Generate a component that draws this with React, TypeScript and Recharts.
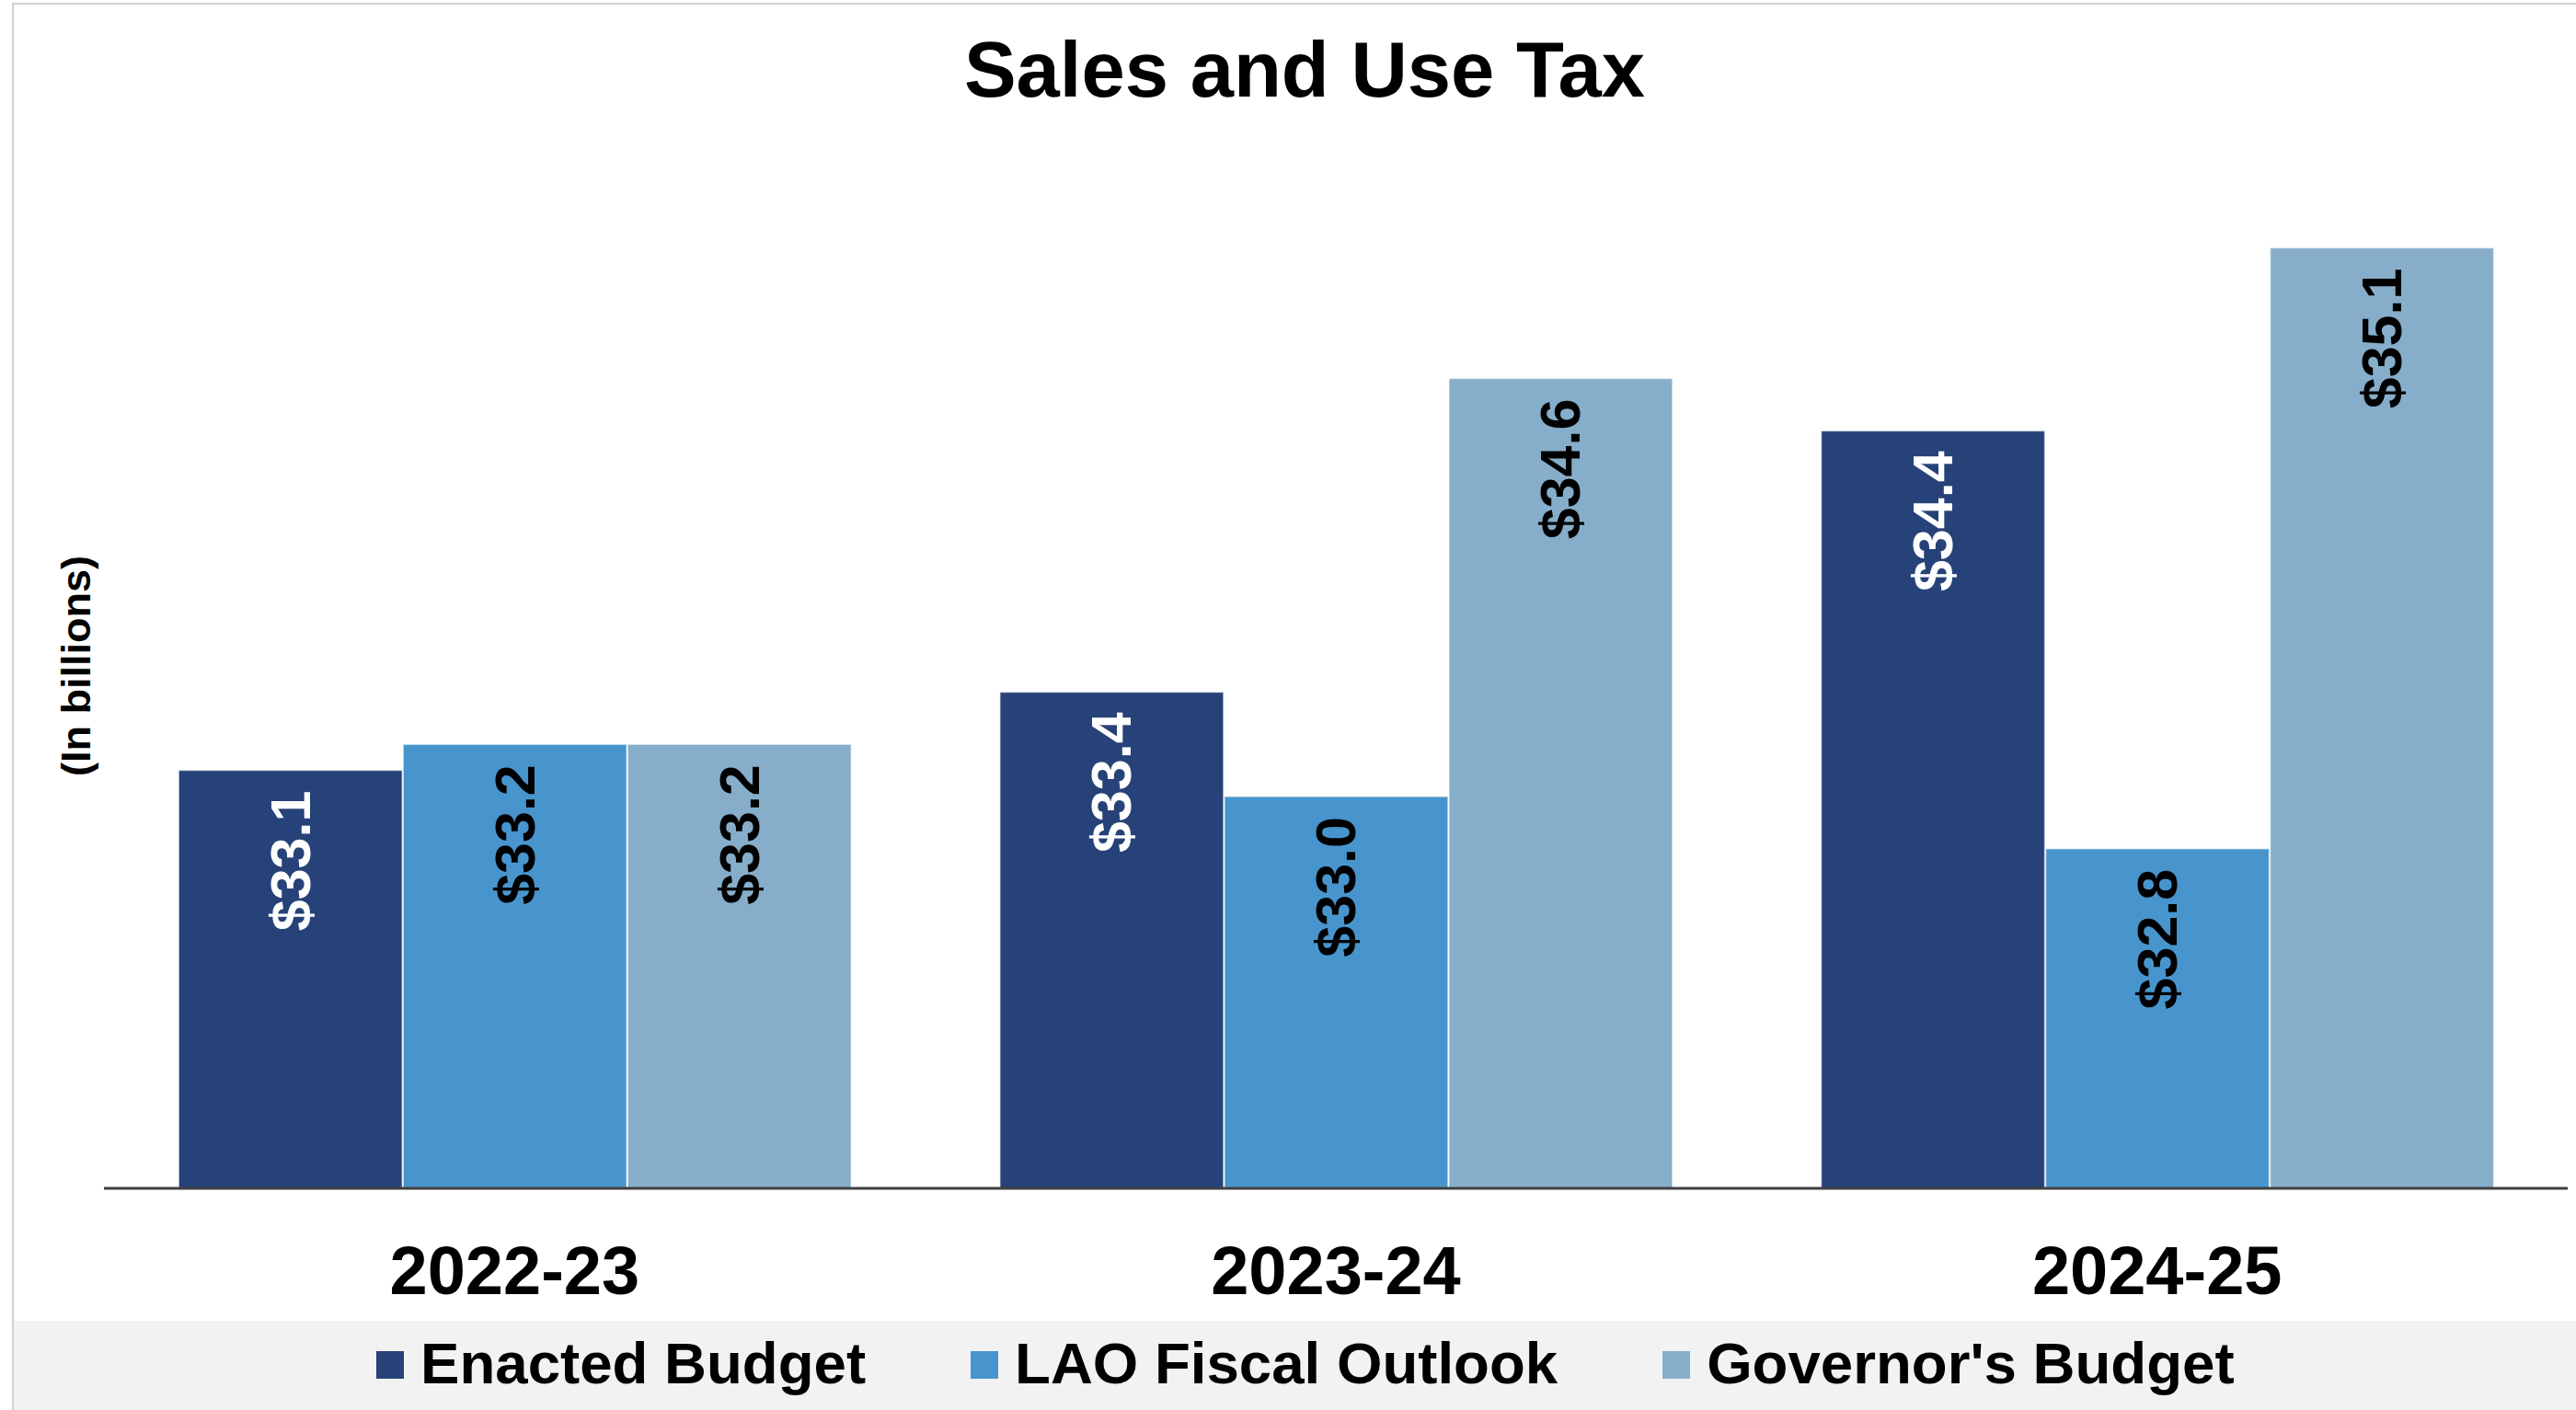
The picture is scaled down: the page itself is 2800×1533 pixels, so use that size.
import { BarChart, Bar, XAxis, YAxis, LabelList } from "recharts";

const FONT = '"Liberation Sans", Arial, Helvetica, sans-serif';

// fiscal years on the x axis
const years = ["2022-23", "2023-24", "2024-25"];

// revenue estimates, in billions
const enacted = [33.1, 33.4, 34.4];
const laoOutlook = [33.2, 33.0, 32.8];
const governors = [33.2, 34.6, 35.1];

const seriesKeys = ["enacted", "lao", "governor"];
const seriesNames = ["Enacted Budget", "LAO Fiscal Outlook", "Governor's Budget"];
const seriesColors = ["#264278", "#4895CE", "#86AECA"];
const labelColors = ["#ffffff", "#000000", "#000000"];

const data = years.map((year, i) => ({
  year,
  enacted: enacted[i],
  lao: laoOutlook[i],
  governor: governors[i],
}));

const makeValueLabel = (color: string) => (props: any) => {
  const { x, y, width, value } = props;
  const cx = Number(x) + Number(width) / 2;
  const top = Number(y) + 22;
  return (
    <text
      x={cx}
      y={top}
      transform={`rotate(-90, ${cx}, ${top})`}
      textAnchor="end"
      dominantBaseline="central"
      fill={color}
      fontSize={61}
      fontWeight="bold"
      fontFamily={FONT}
    >
      {`$${Number(value).toFixed(1)}`}
    </text>
  );
};

const YearTick = (props: any) => {
  const { x, y, payload } = props;
  return (
    <text
      x={x}
      y={Number(y) + 115}
      textAnchor="middle"
      fill="#000"
      fontSize={74}
      fontWeight="bold"
      fontFamily={FONT}
    >
      {payload.value}
    </text>
  );
};

const renderYLabel = (props: any) => {
  const vb = props.viewBox || {};
  const cx = Number(vb.x || 0) + 98;
  const cy = Number(vb.y || 0) + Number(vb.height || 0) / 2;
  return (
    <text
      x={cx}
      y={cy}
      transform={`rotate(-90, ${cx}, ${cy})`}
      textAnchor="middle"
      fill="#000"
      fontSize={45}
      fontWeight="bold"
      fontFamily={FONT}
    >
      (In billions)
    </text>
  );
};

export default function App() {
  return (
    <div
      style={{
        position: "absolute",
        left: 0,
        top: 0,
        width: 2800,
        height: 1533,
        background: "#fff",
        fontFamily: FONT,
        overflow: "hidden",
      }}
    >
      {/* frame */}
      <div
        style={{
          position: "absolute",
          left: 13,
          top: 3,
          width: 2800,
          height: 1540,
          borderTop: "2px solid #d0d0d0",
          borderLeft: "2px solid #d0d0d0",
        }}
      />
      {/* legend band */}
      <div
        style={{
          position: "absolute",
          left: 15,
          top: 1436,
          width: 2790,
          height: 100,
          background: "#f2f2f2",
        }}
      />
      {/* title */}
      <div
        style={{
          position: "absolute",
          left: 1418,
          top: 33,
          transform: "translateX(-50%)",
          whiteSpace: "nowrap",
          fontSize: 85,
          lineHeight: "85px",
          fontWeight: "bold",
          color: "#000",
        }}
      >
        Sales and Use Tax
      </div>

      <div style={{ position: "absolute", left: 0, top: 0 }}>
        <BarChart
          width={2800}
          height={1533}
          data={data}
          margin={{ top: 156, right: 9, bottom: 98, left: 0 }}
          barCategoryGap="9.1%"
          barGap={1}
        >
          <XAxis
            dataKey="year"
            height={143}
            tickLine={false}
            tickSize={0}
            tickMargin={0}
            axisLine={{ stroke: "#404040", strokeWidth: 3 }}
            tick={<YearTick />}
            interval={0}
          />
          <YAxis
            width={113}
            domain={[31.5, 35.5]}
            axisLine={false}
            tickLine={false}
            tick={false}
            label={{ content: renderYLabel }}
          />
          {seriesKeys.map((key, i) => (
            <Bar
              key={key}
              dataKey={key}
              name={seriesNames[i]}
              fill={seriesColors[i]}
              stroke="#ffffff"
              strokeOpacity={0.55}
              strokeWidth={1.5}
              isAnimationActive={false}
            >
              <LabelList dataKey={key} content={makeValueLabel(labelColors[i])} />
            </Bar>
          ))}
        </BarChart>
      </div>

      {/* legend */}
      <div
        style={{
          position: "absolute",
          left: 409,
          top: 1450,
          display: "flex",
          alignItems: "flex-start",
          whiteSpace: "nowrap",
        }}
      >
        {seriesNames.map((name, i) => (
          <div
            key={name}
            style={{
              display: "flex",
              alignItems: "flex-start",
              marginRight: i < seriesNames.length - 1 ? 114 : 0,
            }}
          >
            <div
              style={{
                width: 30,
                height: 30,
                marginTop: 19,
                marginRight: 18,
                background: seriesColors[i],
              }}
            />
            <span
              style={{
                fontSize: 63.6,
                lineHeight: "63px",
                fontWeight: "bold",
                color: "#000",
              }}
            >
              {name}
            </span>
          </div>
        ))}
      </div>
    </div>
  );
}
